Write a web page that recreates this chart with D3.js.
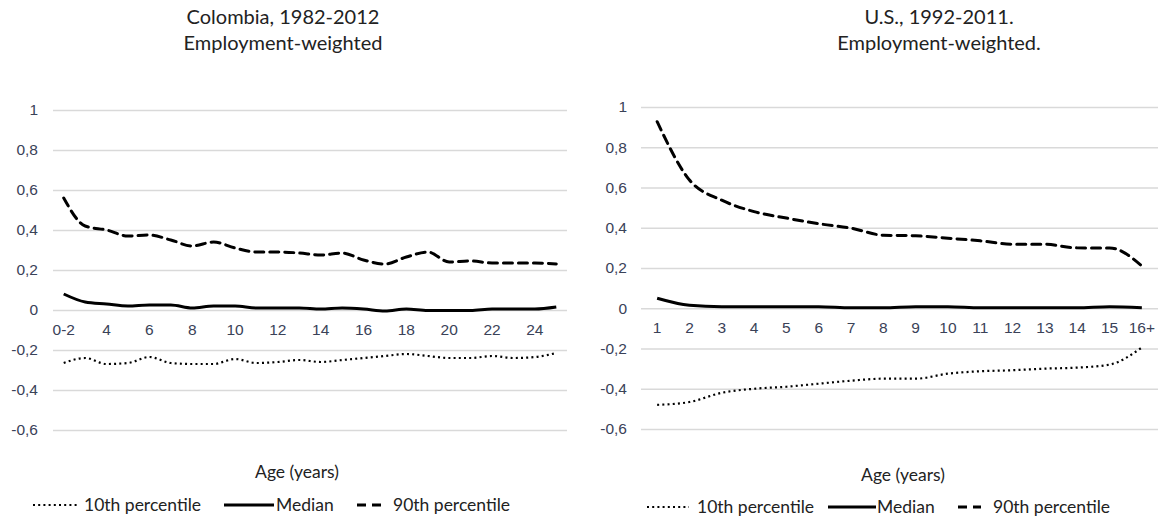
<!DOCTYPE html>
<html>
<head>
<meta charset="utf-8">
<script src="https://cdn.jsdelivr.net/npm/d3@7"></script>
<style>
  body { margin: 0; background: #fff; }
  .lbl { font-family: Lato, sans-serif; fill: #222; }
</style>
</head>
<body>
<svg id="chart" width="1162" height="518"></svg>
<script>
// Colombia, 1982-2012
var colAges = ["0-2", "3", "4", "5", "6", "7", "8", "9", "10", "11", "12", "13", "14",
               "15", "16", "17", "18", "19", "20", "21", "22", "23", "24", "25"];
var colP10 = [-0.265, -0.24, -0.27, -0.265, -0.235, -0.265, -0.27, -0.27, -0.245, -0.265, -0.26, -0.25,
              -0.26, -0.25, -0.24, -0.23, -0.22, -0.23, -0.24, -0.24, -0.23, -0.24, -0.235, -0.215];
var colMedian = [0.08, 0.04, 0.03, 0.02, 0.025, 0.025, 0.01, 0.02, 0.02, 0.01, 0.01, 0.01,
                 0.005, 0.01, 0.005, -0.005, 0.005, -0.003, -0.003, -0.003, 0.005, 0.005, 0.005, 0.015];
var colP90 = [0.56, 0.42, 0.40, 0.37, 0.375, 0.35, 0.32, 0.34, 0.31, 0.29, 0.29, 0.285,
              0.275, 0.285, 0.25, 0.23, 0.265, 0.29, 0.24, 0.245, 0.235, 0.235, 0.235, 0.23];

// U.S., 1992-2011
var usAges = ["1", "2", "3", "4", "5", "6", "7", "8", "9", "10", "11", "12", "13", "14", "15", "16+"];
var usP10 = [-0.48, -0.466, -0.42, -0.40, -0.39, -0.375, -0.36, -0.35, -0.35, -0.325, -0.313, -0.308,
             -0.30, -0.295, -0.28, -0.195];
var usMedian = [0.05, 0.015, 0.008, 0.008, 0.008, 0.008, 0.003, 0.003, 0.008, 0.008, 0.003, 0.003,
                0.003, 0.003, 0.008, 0.003];
var usP90 = [0.927, 0.637, 0.537, 0.48, 0.448, 0.42, 0.398, 0.363, 0.36, 0.348, 0.335, 0.318,
             0.318, 0.30, 0.30, 0.21];

var yTicks = [-0.6, -0.4, -0.2, 0, 0.2, 0.4, 0.6, 0.8, 1];
var seriesNames = ["10th percentile", "Median", "90th percentile"];

var locale = d3.formatLocale({decimal: ",", thousands: ".", grouping: [3], currency: ["", ""], minus: "-"});
var fmt = locale.format("");

var styles = [
  {width: 2.2, dash: "2,3.2"},
  {width: 3, dash: null},
  {width: 3, dash: "9,6"}
];

var svg = d3.select("#chart");

function tickText(s) {
  s.select(".domain").remove();
  s.selectAll("text")
    .style("font-family", "'Liberation Sans', Arial, sans-serif")
    .style("font-size", "15.5px")
    .style("fill", "#3a4258");
}

function panel(opt) {
  var x = d3.scaleBand().domain(opt.ages).range([opt.x0, opt.x1]);
  var y = d3.scaleLinear().domain([-0.6, 1]).range([opt.yBot, opt.yTop]);
  var g = svg.append("g");

  // gridlines
  g.append("g")
    .attr("transform", "translate(" + opt.x0 + ",0)")
    .call(d3.axisLeft(y).tickValues(yTicks).tickSize(-(opt.x1 - opt.x0)).tickFormat(""))
    .call(function(s) {
      s.select(".domain").remove();
      s.selectAll("line").attr("stroke", "#d9d9d9").attr("stroke-width", 1.5);
    });

  // y labels
  g.append("g")
    .attr("transform", "translate(" + opt.yLabelX + ",0)")
    .call(d3.axisLeft(y).tickValues(yTicks).tickSize(0).tickPadding(0).tickFormat(fmt))
    .call(tickText);

  // x labels, placed just under the zero line
  g.append("g")
    .attr("transform", "translate(0," + (y(0) + 9) + ")")
    .call(d3.axisBottom(x).tickValues(opt.xTicks).tickSize(0).tickPadding(5))
    .call(tickText);

  var line = d3.line()
    .x(function(d, i) { return x(opt.ages[i]) + x.bandwidth() / 2; })
    .y(function(d) { return y(d); })
    .curve(d3.curveMonotoneX);

  [opt.p10, opt.median, opt.p90].forEach(function(vals, k) {
    g.append("path")
      .datum(vals)
      .attr("d", line)
      .attr("fill", "none")
      .attr("stroke", "#000")
      .attr("stroke-width", styles[k].width)
      .attr("stroke-dasharray", styles[k].dash)
      .attr("stroke-linecap", k === 2 ? "round" : "butt");
  });

  // titles
  g.append("text").attr("class", "lbl")
    .attr("x", opt.titleX).attr("y", 24).attr("text-anchor", "middle")
    .style("font-size", "20px").text(opt.title1);
  g.append("text").attr("class", "lbl")
    .attr("x", opt.titleX).attr("y", 50).attr("text-anchor", "middle")
    .style("font-size", "20px").text(opt.title2);

  g.append("text").attr("class", "lbl")
    .attr("x", opt.axisTitleX).attr("y", opt.axisTitleY).attr("text-anchor", "middle")
    .style("font-size", "17.5px").text("Age (years)");

  // legend
  var lg = g.append("g").attr("transform", "translate(0," + opt.legendY + ")");
  opt.legend.forEach(function(it, k) {
    lg.append("line")
      .attr("x1", it.s0).attr("x2", it.s1).attr("y1", 0).attr("y2", 0)
      .attr("stroke", "#000")
      .attr("stroke-width", styles[k].width)
      .attr("stroke-dasharray", styles[k].dash);
    lg.append("text").attr("class", "lbl")
      .attr("x", it.t).attr("y", 6)
      .style("font-size", "17.5px").text(seriesNames[k]);
  });
}

panel({
  ages: colAges, p10: colP10, median: colMedian, p90: colP90,
  xTicks: colAges.filter(function(d) { return d === "0-2" || (+d % 2 === 0); }),
  x0: 53, x1: 567, yTop: 110, yBot: 430, yLabelX: 38,
  title1: "Colombia, 1982-2012", title2: "Employment-weighted", titleX: 283,
  axisTitleX: 297, axisTitleY: 478, legendY: 505,
  legend: [{s0: 33, s1: 77, t: 84}, {s0: 224, s1: 274, t: 276}, {s0: 357, s1: 382, t: 393}]
});

panel({
  ages: usAges, p10: usP10, median: usMedian, p90: usP90,
  xTicks: usAges,
  x0: 641, x1: 1158, yTop: 107, yBot: 429, yLabelX: 627,
  title1: "U.S., 1992-2011.", title2: "Employment-weighted.", titleX: 939,
  axisTitleX: 903, axisTitleY: 481, legendY: 507,
  legend: [{s0: 647, s1: 689, t: 697}, {s0: 828, s1: 876, t: 877}, {s0: 958, s1: 981, t: 993}]
});
</script>
</body>
</html>
